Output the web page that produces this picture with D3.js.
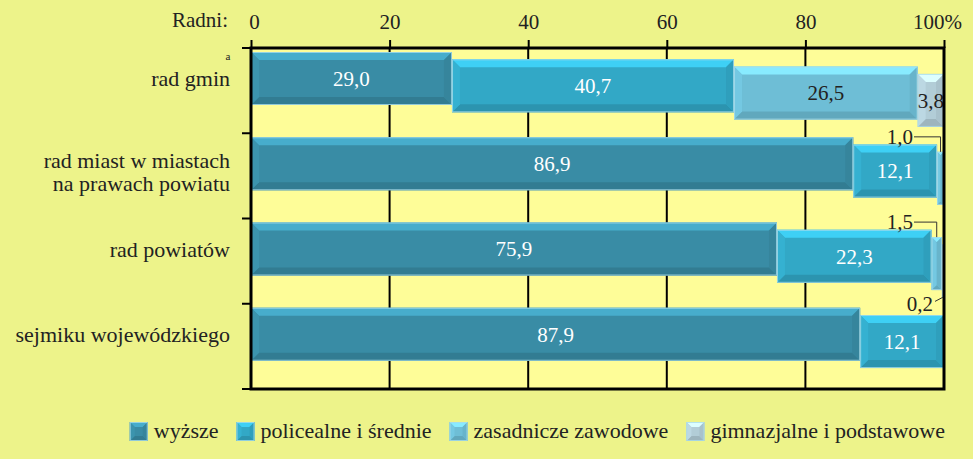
<!DOCTYPE html>
<html><head><meta charset="utf-8">
<script src="https://cdn.jsdelivr.net/npm/d3@7"></script>
<style>
html,body{margin:0;padding:0;background:#EDF38A;}
svg{display:block;}
</style></head>
<body>
<svg id="c" width="973" height="459"></svg>
<script>
const categories = ["rad gmin", "rad miast w miastach\nna prawach powiatu", "rad powiatów", "sejmiku wojewódzkiego"];
const seriesNames = ["wyższe", "policealne i średnie", "zasadnicze zawodowe", "gimnazjalne i podstawowe"];
const wyzsze = [29.0, 86.9, 75.9, 87.9];
const policealne = [40.7, 12.1, 22.3, 12.1];
const zasadnicze = [26.5, 1.0, 1.5, 0];
const gimnazjalne = [3.8, 0, 0.2, 0];
const tickValues = [0, 20, 40, 60, 80, 100];
const tickLabels = ["0", "20", "40", "60", "80", "100%"];
const axisTitle = "Radni:";

const FONT = '"Liberation Serif"';
const series = [wyzsze, policealne, zasadnicze, gimnazjalne];
const colors = ["#398CA5", "#32A8C6", "#6EBED6", "#B2CDD7"];
const textColors = ["#ffffff", "#ffffff", "#222222", "#222222"];
const fmt = v => d3.format(".1f")(v).replace(".", ",");

const svg = d3.select("#c");
const L = 251, R = 944, T = 48, B = 389;
const x = d3.scaleLinear().domain([0, 100]).range([L, R]);
const y = d3.scaleBand().domain(categories).range([T, B]).paddingInner(0).paddingOuter(0);

svg.append("rect").attr("x", L).attr("y", T).attr("width", R - L).attr("height", B - T).attr("fill", "#FEFD98");

svg.append("g").selectAll("line").data(tickValues.slice(1, -1)).join("line")
  .attr("x1", d => x(d)).attr("x2", d => x(d)).attr("y1", T).attr("y2", B)
  .attr("stroke", "#000").attr("stroke-width", 2);

function bevel(g, x0, x1, y0, y1, color, bmax) {
  const w = x1 - x0, h = y1 - y0;
  if (w <= 0) return;
  const b = Math.min(bmax || 8, w / 2, h / 2);
  const c = d3.color(color);
  const light = c.brighter(0.6).formatHex();
  const light2 = c.brighter(0.15).formatHex();
  const dark = c.darker(0.35).formatHex();
  const dark2 = c.darker(0.15).formatHex();
  const poly = (pts, f) => g.append("polygon").attr("points", pts.map(p => p.join(",")).join(" ")).attr("fill", f);
  g.append("rect").attr("x", x0).attr("y", y0).attr("width", w).attr("height", h).attr("fill", color);
  poly([[x0, y0], [x1, y0], [x1 - b, y0 + b], [x0 + b, y0 + b]], light);
  poly([[x0, y1], [x1, y1], [x1 - b, y1 - b], [x0 + b, y1 - b]], dark);
  poly([[x0, y0], [x0 + b, y0 + b], [x0 + b, y1 - b], [x0, y1]], light2);
  poly([[x1, y0], [x1 - b, y0 + b], [x1 - b, y1 - b], [x1, y1]], dark2);
  g.append("rect").attr("x", x0 + 0.5).attr("y", y0 + 0.5).attr("width", Math.max(0, w - 1)).attr("height", h - 1)
    .attr("fill", "none").attr("stroke", "#A9DCEA").attr("stroke-width", 1).attr("opacity", 0.8);
}

const barH = 53, barOff = 4, segShift = 7.3;
const bars = svg.append("g");
const labels = svg.append("g");
categories.forEach((cat, ri) => {
  let cum = 0;
  series.forEach((s, si) => {
    const v = s[ri];
    const x0 = x(cum), x1 = x(Math.min(100, cum + v));
    const y0 = y(cat) + barOff + si * segShift, y1 = y0 + barH;
    cum += v;
    if (v <= 0) return;
    const g = bars.append("g");
    bevel(g, x0, x1, y0, y1, colors[si]);
    if (v >= 3) {
      labels.append("text").attr("x", (x0 + x1) / 2).attr("y", (y0 + y1) / 2)
        .attr("dy", "0.35em").attr("text-anchor", "middle").attr("font-size", 21)
        .attr("fill", textColors[si]).text(fmt(v));
    } else if (si === 3) {
      const cx = (x0 + x1) / 2;
      labels.append("text").attr("x", x(100) - 11).attr("y", y1 + 6).attr("dy", "0.35em")
        .attr("text-anchor", "end").attr("font-size", 21).attr("fill", "#222").text(fmt(v));
      labels.append("line").attr("x1", x(100) - 9).attr("y1", y1 + 4).attr("x2", cx).attr("y2", y1)
        .attr("stroke", "#333").attr("stroke-width", 1);
    } else {
      const cx = (x0 + x1) / 2;
      const ly = y0 - 15;
      labels.append("text").attr("x", x(100) - 31).attr("y", ly).attr("dy", "0.35em")
        .attr("text-anchor", "end").attr("font-size", 21).attr("fill", "#222").text(fmt(v));
      labels.append("path").attr("d", `M${x(100) - 30},${ly}H${cx}V${y0}`)
        .attr("fill", "none").attr("stroke", "#333").attr("stroke-width", 1);
    }
  });
});

svg.append("rect").attr("x", L).attr("y", T).attr("width", R - L).attr("height", B - T)
  .attr("fill", "none").attr("stroke", "#000").attr("stroke-width", 3);

const ax = svg.append("g").attr("transform", `translate(0,${T})`)
  .call(d3.axisTop(x).tickValues(tickValues).tickFormat((d, i) => tickLabels[i]).tickSize(8).tickPadding(11));
ax.select(".domain").remove();
ax.selectAll(".tick line").attr("stroke", "#000").attr("stroke-width", 2);
ax.selectAll(".tick text").attr("fill", "#222").attr("font-size", 21)
  .attr("dx", (d, i) => i === tickValues.length - 1 ? -7 : (i === 0 ? 3 : 0));
svg.append("text").attr("x", 228).attr("y", 27).attr("text-anchor", "end").attr("font-size", 21).attr("fill", "#222").text(axisTitle);

const lyg = svg.append("g").attr("transform", `translate(${L},0)`);
const bounds = categories.map(c => y(c)).concat([B]);
lyg.selectAll("line").data(bounds).join("line")
  .attr("x1", -9).attr("x2", 0).attr("y1", d => d).attr("y2", d => d).attr("stroke", "#000").attr("stroke-width", 2);

categories.forEach((cat, ri) => {
  const cy = y(cat) + barOff + barH / 2;
  const lines = cat.split("\n");
  const t = svg.append("text").attr("x", 230).attr("text-anchor", "end").attr("font-size", 22).attr("fill", "#222");
  if (lines.length === 1) {
    t.attr("y", cy).attr("dy", "0.35em").text(cat);
  } else {
    lines.forEach((ln, k) => t.append("tspan").attr("x", 230).attr("y", cy - 3 + k * 23).attr("dy", "0.35em").text(ln));
  }
});
svg.append("text").attr("x", 228).attr("y", 60).attr("text-anchor", "middle").attr("font-size", 11).attr("fill", "#222").text("a");

const leg = svg.append("g");
const items = [];
seriesNames.forEach((n, i) => {
  const g = leg.append("g");
  bevel(g, 0, 18, 0, 19, colors[i], 5);
  const t = g.append("text").attr("x", 24).attr("y", 16).attr("font-size", 22).attr("fill", "#222").style("font-family", FONT).text(n);
  items.push({ g, w: 24 + t.node().getComputedTextLength() });
});
const gap = 18;
const total = d3.sum(items, d => d.w) + gap * (items.length - 1);
let lx = 945 - total;
items.forEach(it => { it.g.attr("transform", `translate(${lx},422)`); lx += it.w + gap; });

svg.selectAll("text").style("font-family", FONT);
</script>
</body></html>
